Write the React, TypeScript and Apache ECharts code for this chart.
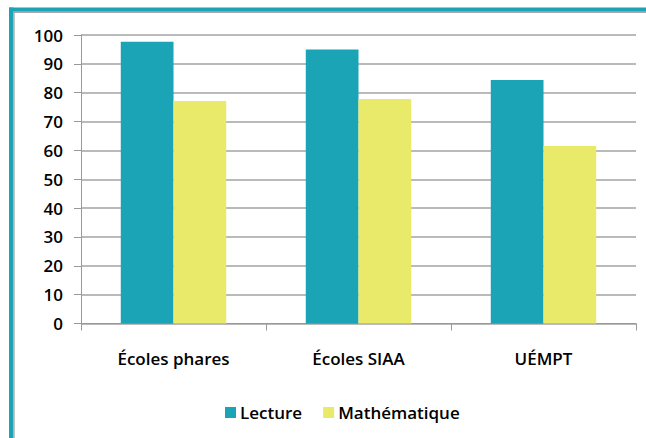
import React, { useEffect, useRef } from "react";
import * as echarts from "echarts";

const categories = ["Écoles phares", "Écoles SIAA", "UÉMPT"];
const lectureValues = [97.7, 95.0, 84.4];
const mathValues = [77.1, 77.8, 61.5];
const seriesNames = ["Lecture", "Mathématique"];

const TEAL = "#1ba4b5";
const YELLOW = "#e9e96a";
const FONT = "'Open Sans', 'Noto Sans', sans-serif";

export default function App() {
  const ref = useRef<HTMLDivElement>(null);
  useEffect(() => {
    if (!ref.current) return;
    const chart = echarts.init(ref.current, undefined, { renderer: "svg" });
    chart.setOption({
      animation: false,
      backgroundColor: "#ffffff",
      graphic: [
        { type: "rect", shape: { x: 9, y: 7.5, width: 637, height: 4.3 }, style: { fill: TEAL }, z: 10 },
        { type: "rect", shape: { x: 9, y: 7.5, width: 4.5, height: 431 }, style: { fill: TEAL }, z: 10 },
        { type: "rect", shape: { x: 13.5, y: 11.8, width: 633, height: 1.2 }, style: { fill: "#a8a8a8" }, z: 10 },
        { type: "rect", shape: { x: 13.5, y: 11.8, width: 1.2, height: 427 }, style: { fill: "#a8a8a8" }, z: 10 },
      ],
      grid: { left: 81, right: 10, top: 35, bottom: 114.5, containLabel: false },
      legend: {
        data: seriesNames,
        left: 220,
        top: 399,
        icon: "rect",
        itemWidth: 11,
        itemHeight: 11,
        itemGap: 21,
        textStyle: { fontFamily: FONT, fontSize: 17, fontWeight: 600, color: "#000", padding: [0, 0, 0, -1] },
      },
      xAxis: {
        type: "category",
        data: categories,
        axisLine: { show: true, lineStyle: { color: "#999", width: 1 } },
        axisTick: { show: true, length: 7, alignWithLabel: false, interval: 0, lineStyle: { color: "#999" } },
        axisLabel: { margin: 26, fontFamily: FONT, fontSize: 17, fontWeight: 600, color: "#000", interval: 0 },
        splitLine: { show: false },
      },
      yAxis: {
        type: "value",
        min: 0,
        max: 100,
        interval: 10,
        axisLine: { show: true, lineStyle: { color: "#999", width: 1 } },
        axisTick: { show: true, length: 7, lineStyle: { color: "#999" } },
        axisLabel: { margin: 18, fontFamily: FONT, fontSize: 17, fontWeight: 600, color: "#000" },
        splitLine: { show: true, lineStyle: { color: "#a3a3a3", width: 1.5 } },
      },
      series: [
        {
          name: seriesNames[0],
          type: "bar",
          data: lectureValues,
          itemStyle: { color: TEAL },
          barGap: "0%",
          barCategoryGap: "43%",
        },
        {
          name: seriesNames[1],
          type: "bar",
          data: mathValues,
          itemStyle: { color: YELLOW },
          barGap: "0%",
          barCategoryGap: "43%",
        },
      ],
    });
    return () => chart.dispose();
  }, []);
  return (
    <div
      ref={ref}
      style={{ position: "absolute", left: 0, top: 0, width: 646, height: 438 }}
    />
  );
}
